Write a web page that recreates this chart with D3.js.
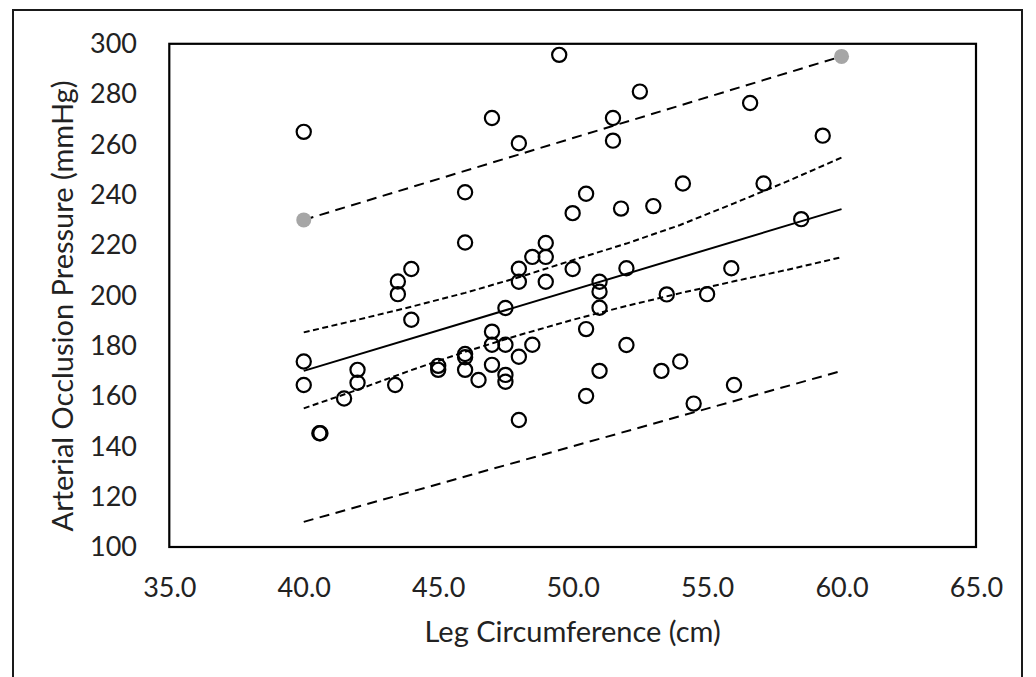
<!DOCTYPE html>
<html>
<head>
<meta charset="utf-8">
<script src="https://cdn.jsdelivr.net/npm/d3@7"></script>
<style>
  html, body { margin: 0; padding: 0; background: #fff; }
  svg { display: block; }
  text { font-family: Lato, "Open Sans", sans-serif; fill: #222; }
</style>
</head>
<body>
<svg id="chart" width="1036" height="677"></svg>
<script>
// values
var legCirc = [40.0, 40.0, 40.0, 40.58, 40.62, 41.5, 42.0, 42.0, 43.4, 43.5, 43.5, 44.0, 44.0,
    45.0, 45.0, 46.0, 46.0, 46.0, 46.0, 46.0, 46.5, 47.0, 47.0, 47.0, 47.0, 47.5, 47.5, 47.5,
    47.5, 48.0, 48.0, 48.0, 48.0, 48.0, 48.5, 48.5, 49.0, 49.0, 49.0, 49.5, 50.0, 50.0, 50.5,
    50.5, 50.5, 51.0, 51.0, 51.0, 51.0, 51.5, 51.5, 51.8, 52.0, 52.0, 52.5, 53.0, 53.3, 53.5,
    54.1, 54.0, 54.5, 55.0, 55.9, 56.0, 56.6, 57.1, 58.5, 59.3];
var occlusion = [265, 173.7, 164.4, 145.2, 145.2, 159, 170.4, 165.3, 164.4, 205.5, 200.5, 210.5, 190.3,
    172, 170.4, 241, 221, 176.7, 175.4, 170.4, 166.4, 270.5, 185.6, 180.4, 172.4, 195, 180.4, 168.4,
    165.7, 260.5, 210.6, 205.4, 175.6, 150.5, 215.3, 180.4, 220.8, 215.3, 205.4, 295.6, 232.7, 210.5, 240.4,
    186.6, 160, 205.4, 201.5, 195.1, 170, 270.5, 261.5, 234.5, 210.8, 180.3, 281, 235.5, 170, 200.4,
    244.5, 173.7, 157, 200.5, 210.8, 164.4, 276.5, 244.5, 230.3, 263.5];

var fitX = [40, 60];
var fitY = [170, 234.3];

var ciX = [40, 42, 44, 46, 48, 50, 52, 54, 56, 58, 60];
var ciUpper = [185.3, 190.3, 195.5, 201.0, 207.2, 214.0, 220.6, 228.0, 236.6, 245.4, 254.8];
var ciLower = [155.1, 162.5, 170.3, 177.6, 184.2, 190.3, 195.8, 200.9, 205.6, 210.2, 215.2];

var piX = [40, 60];
var piUpper = [230, 295];
var piLower = [110, 170];

var xTicks = [35, 40, 45, 50, 55, 60, 65];
var yTicks = [100, 120, 140, 160, 180, 200, 220, 240, 260, 280, 300];

var svg = d3.select('#chart');

var x = d3.scaleLinear().domain([35, 65]).range([169.3, 976]);
var y = d3.scaleLinear().domain([100, 300]).range([547, 43.8]);

/* outer chart frame */
svg.append('rect')
    .attr('x', 13).attr('y', 10)
    .attr('width', 1009).attr('height', 700)
    .attr('fill', 'none').attr('stroke', '#1a1a1a').attr('stroke-width', 2);

/* axes */
var yAxis = svg.append('g')
    .attr('transform', 'translate(137,0)')
    .call(d3.axisLeft(y).tickValues(yTicks).tickSize(0).tickPadding(0).tickFormat(d3.format('.0f')));
var xAxis = svg.append('g')
    .attr('transform', 'translate(0,578)')
    .call(d3.axisBottom(x).tickValues(xTicks).tickSize(0).tickPadding(0).tickFormat(d3.format('.1f')));

[yAxis, xAxis].forEach(function (g) {
    g.select('.domain').remove();
    g.selectAll('text').style('font-size', '27px').style('font-family', 'Lato, sans-serif').attr('fill', '#222');
});
xAxis.selectAll('text').attr('dy', '0.71em');

/* axis titles */
svg.append('text')
    .attr('x', 572.6).attr('y', 642)
    .attr('text-anchor', 'middle')
    .style('font-size', '29px')
    .text('Leg Circumference (cm)');

svg.append('text')
    .attr('transform', 'translate(73,306) rotate(-90)')
    .attr('text-anchor', 'middle')
    .style('font-size', '29px')
    .text('Arterial Occlusion Pressure (mmHg)');

/* lines */
var line = d3.line()
    .x(function (d) { return x(d[0]); })
    .y(function (d) { return y(d[1]); });

function draw(xs, ys, dash) {
    svg.append('path')
        .datum(d3.zip(xs, ys))
        .attr('d', line)
        .attr('fill', 'none')
        .attr('stroke', '#000')
        .attr('stroke-width', 2)
        .attr('stroke-dasharray', dash);
}

draw(piX, piUpper, '10,6.5');
draw(piX, piLower, '10,6.5');
draw(ciX, ciUpper, '6,3.5');
draw(ciX, ciLower, '6,3.5');
draw(fitX, fitY, null);

/* grey end markers of upper prediction line */
svg.append('g').selectAll('circle')
    .data(d3.zip(piX, piUpper))
    .join('circle')
    .attr('cx', function (d) { return x(d[0]); })
    .attr('cy', function (d) { return y(d[1]); })
    .attr('r', 7.5)
    .attr('fill', '#a6a6a6');

/* data points */
svg.append('g').selectAll('circle')
    .data(d3.zip(legCirc, occlusion))
    .join('circle')
    .attr('cx', function (d) { return x(d[0]); })
    .attr('cy', function (d) { return y(d[1]); })
    .attr('r', 7.1)
    .attr('fill', 'none')
    .attr('stroke', '#000')
    .attr('stroke-width', 2.2);

/* plot area frame */
svg.append('rect')
    .attr('x', x(35)).attr('y', y(300))
    .attr('width', x(65) - x(35)).attr('height', y(100) - y(300))
    .attr('fill', 'none').attr('stroke', '#000').attr('stroke-width', 2.2);
</script>
</body>
</html>
